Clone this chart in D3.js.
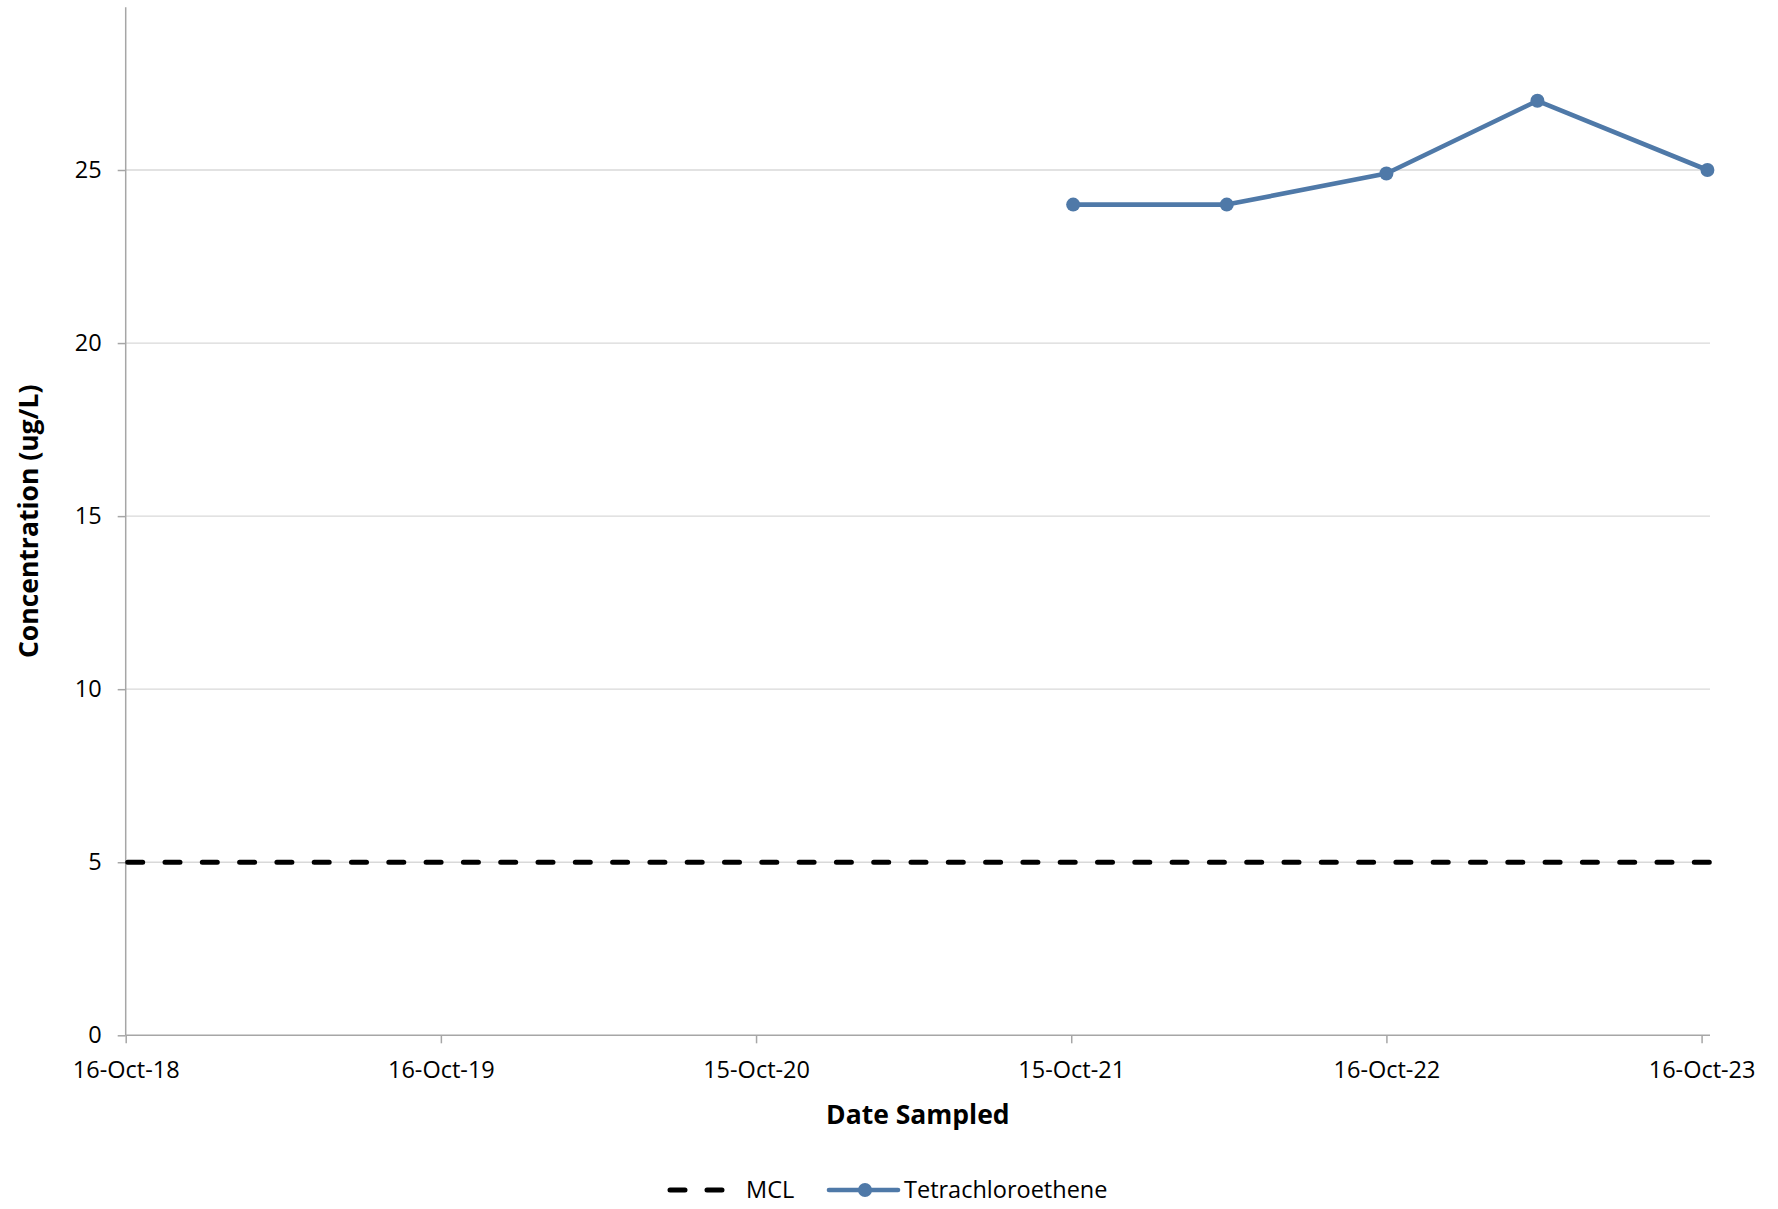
<!DOCTYPE html>
<html>
<head>
<meta charset="utf-8">
<script src="https://cdn.jsdelivr.net/npm/d3@7"></script>
<style>
  html, body { margin: 0; padding: 0; background: #ffffff; }
  svg { display: block; font-family: "Open Sans", "Noto Sans", sans-serif; }
</style>
</head>
<body>
<svg id="chart" width="1778" height="1209"></svg>
<script>
// ---- data ----
const sampleDates = ["2021-10-18", "2022-04-14", "2022-10-16", "2023-04-09", "2023-10-23"];
const pceValues = [24.0, 24.0, 24.9, 27.0, 25.0];
const mclValue = 5;
const yTicks = [0, 5, 10, 15, 20, 25];
const xTickDays = [0, 365.25, 730.5, 1095.75, 1461, 1826.25]; // days after axis start
const xTickLabels = ["16-Oct-18", "16-Oct-19", "15-Oct-20", "15-Oct-21", "16-Oct-22", "16-Oct-23"];
const axisStart = "2018-10-16";
const axisEnd = "2023-10-26";
const yAxisTop = 29.7;
const seriesNames = ["MCL", "Tetrachloroethene"];

// ---- layout ----
const svg = d3.select("#chart");
const left = 125.7, right = 1710, bottom = 1035.3, y25px = 170;
const parse = d3.utcParse("%Y-%m-%d");
const t0 = parse(axisStart), t1 = parse(axisEnd);
const x = d3.scaleUtc().domain([t0, t1]).range([left, right]);
const y = d3.scaleLinear().domain([0, 25]).range([bottom, y25px]);
const DAY = 864e5;
const blue = "#4f79a8";
const axisGray = "#a6a6a6";
const tickFont = 23.5;

// gridlines
svg.append("g").selectAll("line")
  .data(yTicks.filter(d => d > 0))
  .join("line")
  .attr("x1", left).attr("x2", right)
  .attr("y1", d => y(d)).attr("y2", d => y(d))
  .attr("stroke", "#d9d9d9").attr("stroke-width", 1.3);

// y axis
const yAxis = d3.axisLeft(y).tickValues(yTicks).tickSize(8).tickPadding(16).tickFormat(d3.format("d"));
const gy = svg.append("g").attr("transform", `translate(${left},0)`).call(yAxis);
gy.select(".domain").remove();
gy.selectAll(".tick line").attr("stroke", axisGray).attr("stroke-width", 1.5);
gy.selectAll(".tick text").attr("font-size", tickFont).attr("fill", "#000")
  .attr("font-family", '"Open Sans", sans-serif');
svg.append("line").attr("x1", left).attr("x2", left)
  .attr("y1", y(0)).attr("y2", y(yAxisTop))
  .attr("stroke", axisGray).attr("stroke-width", 1.5);

// x axis
const xTickDates = xTickDays.map(d => new Date(t0.getTime() + d * DAY));
const xAxis = d3.axisBottom(x).tickValues(xTickDates).tickSize(8).tickPadding(18)
  .tickFormat((d, i) => xTickLabels[i]);
const gx = svg.append("g").attr("transform", `translate(0,${bottom})`).call(xAxis);
gx.select(".domain").remove();
gx.selectAll(".tick line").attr("stroke", axisGray).attr("stroke-width", 1.5);
gx.selectAll(".tick text").attr("font-size", tickFont).attr("fill", "#000")
  .attr("font-family", '"Open Sans", sans-serif');
svg.append("line").attr("x1", x(t0)).attr("x2", x(t1))
  .attr("y1", bottom).attr("y2", bottom)
  .attr("stroke", axisGray).attr("stroke-width", 1.5);

// MCL line
svg.append("line")
  .attr("x1", x(t0) + 2).attr("x2", x(t1))
  .attr("y1", y(mclValue)).attr("y2", y(mclValue))
  .attr("stroke", "#000").attr("stroke-width", 5)
  .attr("stroke-dasharray", "15 22.3").attr("stroke-linecap", "round");

// PCE series
const pts = sampleDates.map((d, i) => ({ date: parse(d), value: pceValues[i] }));
const line = d3.line().x(d => x(d.date)).y(d => y(d.value));
svg.append("path").datum(pts)
  .attr("d", line).attr("fill", "none")
  .attr("stroke", blue).attr("stroke-width", 4.6).attr("stroke-linejoin", "round");
svg.append("g").selectAll("circle").data(pts).join("circle")
  .attr("cx", d => x(d.date)).attr("cy", d => y(d.value))
  .attr("r", 7).attr("fill", blue);

// axis titles
svg.append("text")
  .attr("x", (left + right) / 2).attr("y", 1124)
  .attr("text-anchor", "middle").attr("font-size", 26.5).attr("font-weight", "bold")
  .text("Date Sampled");
svg.append("text")
  .attr("transform", `translate(38,${(y(0) + y(yAxisTop)) / 2}) rotate(-90)`)
  .attr("text-anchor", "middle").attr("font-size", 26.5).attr("font-weight", "bold")
  .text("Concentration (ug/L)");

// legend
const legY = 1190;
const leg = svg.append("g");
leg.append("line").attr("x1", 670).attr("x2", 723).attr("y1", legY).attr("y2", legY)
  .attr("stroke", "#000").attr("stroke-width", 5)
  .attr("stroke-dasharray", "15 22").attr("stroke-linecap", "round");
leg.append("text").attr("x", 746).attr("y", legY).attr("dy", "0.35em")
  .attr("font-size", 23.5).text(seriesNames[0]);
leg.append("line").attr("x1", 829).attr("x2", 898).attr("y1", legY).attr("y2", legY)
  .attr("stroke", blue).attr("stroke-width", 4.6).attr("stroke-linecap", "round");
leg.append("circle").attr("cx", 865).attr("cy", legY).attr("r", 7).attr("fill", blue);
leg.append("text").attr("x", 904).attr("y", legY).attr("dy", "0.35em")
  .attr("font-size", 23.5).text(seriesNames[1]);
</script>
</body>
</html>
